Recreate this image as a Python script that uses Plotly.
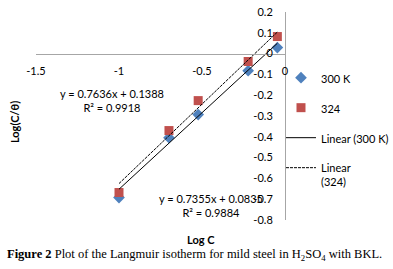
import plotly.graph_objects as go

# ---- data ----
log_c = [-1.0, -0.699, -0.523, -0.222, -0.046]
log_c_theta_300k = [-0.692, -0.404, -0.293, -0.082, 0.029]
log_c_theta_324 = [-0.668, -0.370, -0.226, -0.038, 0.082]

fit_300k = {"slope": 0.7355, "intercept": 0.0835, "r2": 0.9884}
fit_324 = {"slope": 0.7636, "intercept": 0.1388, "r2": 0.9918}

x_tickvals = [-1.5, -1.0, -0.5, 0.0]
x_ticktext = ["-1.5", "-1", "-0.5", "0"]
y_tickvals = [0.2, 0.1, 0.0, -0.1, -0.2, -0.3, -0.4, -0.5, -0.6, -0.7, -0.8]
y_ticktext = ["0.2", "0.1", "0", "-0.1", "-0.2", "-0.3", "-0.4", "-0.5", "-0.6", "-0.7", "-0.8"]

BLUE = "#4F81BD"
RED = "#C0504D"
FONT = "Lato"

xline = [min(log_c), max(log_c)]

def fit_line(f):
    return [f["slope"] * x + f["intercept"] for x in xline]

fig = go.Figure()
fig.add_trace(go.Scatter(x=log_c, y=log_c_theta_300k, mode="markers", name="300 K",
                         legendgroup="a",
                         marker=dict(symbol="diamond", size=9, color=BLUE)))
fig.add_trace(go.Scatter(x=log_c, y=log_c_theta_324, mode="markers", name="324",
                         legendgroup="b",
                         marker=dict(symbol="square", size=9, color=RED)))
fig.add_trace(go.Scatter(x=xline, y=fit_line(fit_300k), mode="lines", name="Linear (300 K)",
                         legendgroup="c",
                         line=dict(color="black", width=1)))
fig.add_trace(go.Scatter(x=xline, y=fit_line(fit_324), mode="lines", name="Linear<br>(324)",
                         legendgroup="d",
                         line=dict(color="black", width=1, dash="3px,1px")))

def eq_text(f):
    return f"y = {f['slope']:.4f}x + {f['intercept']:.4f}<br>R² = {f['r2']:.4f}"

annotations = [
    dict(x=-1.042, y=-0.226, xref="x", yref="y", text=eq_text(fit_324), showarrow=False,
         xanchor="center", yanchor="middle",
         font=dict(family=FONT, size=11, color="black"), align="center"),
    dict(x=-0.445, y=-0.731, xref="x", yref="y", text=eq_text(fit_300k), showarrow=False,
         xanchor="center", yanchor="middle",
         font=dict(family=FONT, size=11, color="black"), align="center"),
    dict(x=-0.088, y=0.471, xref="paper", yref="paper", text="<b>Log(C/θ)</b>", showarrow=False,
         xanchor="center", yanchor="middle",
         textangle=-90, font=dict(family=FONT, size=11, color="black")),
    dict(x=0.663, y=-0.096, xref="paper", yref="paper", text="<b>Log C</b>", showarrow=False,
         xanchor="center", yanchor="middle",
         font=dict(family=FONT, size=11, color="black")),
    dict(x=0.637, y=-0.168, xref="paper", yref="paper",
         text="<b>Figure 2</b> Plot of the Langmuir isotherm for mild steel in H<sub>2</sub>SO<sub>4</sub> with BKL.",
         xanchor="center", yanchor="middle",
         showarrow=False, font=dict(family="Liberation Serif", size=12.5, color="black")),
]

fig.update_layout(
    template="none",
    width=393, height=269,
    margin=dict(l=36, r=108, t=12, b=49, autoexpand=False),
    paper_bgcolor="white", plot_bgcolor="white",
    font=dict(family=FONT, size=11, color="black"),
    showlegend=True,
    legend=dict(xref="container", yref="container", x=0.715, y=0.762,
                xanchor="left", yanchor="top", tracegroupgap=11,
                valign="top", font=dict(family=FONT, size=11), bgcolor="rgba(0,0,0,0)",
                borderwidth=0),
    xaxis=dict(range=[-1.5, 0], tickvals=x_tickvals, ticktext=x_ticktext, automargin=False,
               showgrid=False, zeroline=False, showline=True, linecolor="#A6A6A6", linewidth=1,
               anchor="free", position=0.8, ticks="", ticklabelstandoff=7,
               tickfont=dict(family=FONT, size=11)),
    yaxis=dict(range=[-0.8, 0.2], tickvals=y_tickvals, ticktext=y_ticktext, automargin=False,
               showgrid=False, zeroline=False, showline=True, linecolor="#A6A6A6", linewidth=1,
               anchor="free", position=1.0, side="left", ticks="", ticklabelstandoff=10,
               tickfont=dict(family=FONT, size=11)),
    annotations=annotations,
)

fig.write_html("out.html", config={"displayModeBar": False},
               post_script="document.body.style.margin='0';")
